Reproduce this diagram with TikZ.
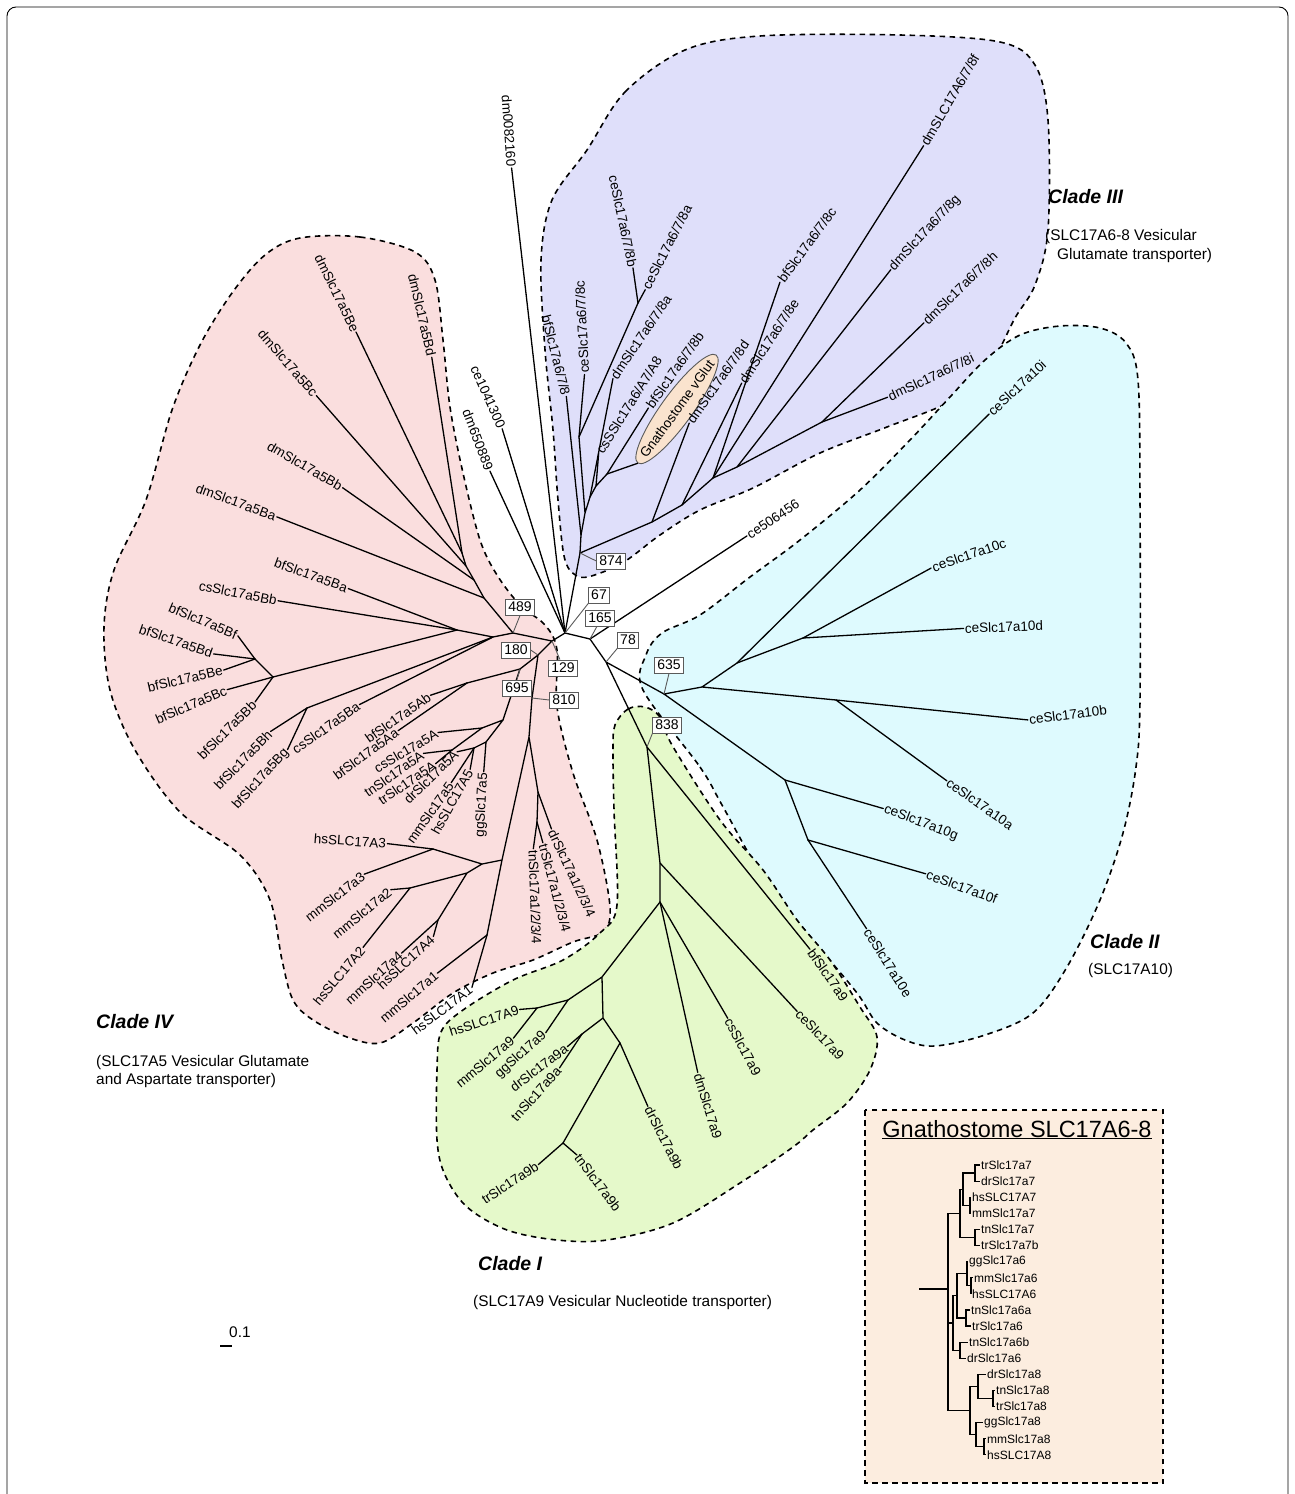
\documentclass[tikz,border=0pt]{standalone}
\usepackage{fontspec}
\setmainfont{Liberation Sans}
\usetikzlibrary{shapes.misc,shapes.geometric}
\definecolor{cIV}{RGB}{250,222,222}
\definecolor{cIII}{RGB}{223,223,250}
\definecolor{cII}{RGB}{222,250,254}
\definecolor{cI}{RGB}{229,249,202}
\definecolor{cInset}{RGB}{252,237,223}
\definecolor{cGV}{RGB}{250,227,206}
\definecolor{bsGray}{RGB}{90,90,90}
\tikzset{
 br/.style={line width=1.3pt,line cap=round},
 lbl/.style={font=\fontsize{13.5}{15}\selectfont,inner sep=1.2pt},
 cladeln/.style={line width=1.6pt,dash pattern=on 5.5pt off 4.5pt},
 bsbox/.style={draw=bsGray,line width=1pt,fill=white,font=\fontsize{14}{16}\selectfont,inner xsep=2.5pt,inner ysep=1.5pt,minimum height=16pt},
 lead/.style={draw=bsGray,line width=0.9pt},
 ttl/.style={font=\fontsize{19.5}{22}\selectfont\bfseries\itshape,anchor=west,inner sep=0pt},
 sub/.style={font=\fontsize{15.4}{18}\selectfont,anchor=west,inner sep=0pt},
 ibr/.style={line width=1.2pt},
 ilbl/.style={font=\fontsize{12}{13}\selectfont,inner sep=1pt,anchor=west},
 gvstyle/.style={ellipse,draw=bsGray,line width=0.9pt,fill=cGV,font=\fontsize{13.5}{15}\selectfont,inner xsep=-11pt,inner ysep=6pt},
}
% parent, name, centre of text, rotation, anchor the branch ends at, text
\newcommand\leafc[6]{%
  \node[lbl,rotate=#4] (#2) at (#3) {#6};
  \draw[br] (#1) -- (#2.#5);}
\newcommand\ileaf[3]{%
  \coordinate (#1) at (#2);
  \node[ilbl] (L#1) at (#1) {#3};}
\begin{document}
\begin{tikzpicture}[x=1pt,y=-1pt]
\useasboundingbox (0,0) rectangle (1295,1494);
\fill[white] (0,0) rectangle (1295,1494);
\draw[line width=0.9pt,rounded corners=9pt] (7,1494) -- (7,7) -- (1288,7) -- (1288,1494);

% ---------------- clade areas
\draw[cladeln,fill=cIV] plot[smooth cycle,tension=0.55] coordinates {(300,238) (360,237) (415,252) (435,280) (443,340) (450,407) (463,473) (480,540) (497,575) (520,605) (545,625) (557,650) (557,707) (573,773) (597,840) (610,907) (603,932) (573,942) (533,960) (493,973) (453,993) (413,1023) (380,1043) (347,1037) (313,1020) (293,1000) (282,960) (270,900) (240,855) (180,812) (135,750) (110,690) (104,627) (114,570) (146,500) (172,410) (200,345) (232,293) (265,255)};
\draw[cladeln,fill=cIII] plot[smooth cycle,tension=0.55] coordinates {(587,150) (625,92) (685,50) (760,36) (900,35) (1000,42) (1035,65) (1048,120) (1048,230) (1035,285) (1015,318) (990,365) (953,400) (887,427) (820,453) (753,488) (700,510) (660,535) (627,560) (603,572) (580,577) (565,560) (558,500) (553,430) (545,350) (541,260) (552,200)};
\draw[cladeln,fill=cII] plot[smooth cycle,tension=0.55] coordinates {(643,690) (700,767) (722,805) (763,877) (813,940) (857,993) (877,1023) (905,1040) (935,1046) (985,1035) (1033,1013) (1067,967) (1100,900) (1123,833) (1136,767) (1140,700) (1140,500) (1138,380) (1126,343) (1100,328) (1060,326) (1020,335) (985,360) (950,397) (910,440) (860,490) (800,540) (750,577) (700,615) (662,633) (646,655)};
\draw[cladeln,fill=cI] plot[smooth cycle,tension=0.55] coordinates {(615,725) (628,709) (645,707) (660,717) (672,745) (720,820) (763,870) (797,920) (830,960) (860,1007) (877,1037) (870,1070) (847,1103) (813,1130) (793,1147) (740,1183) (673,1223) (607,1240) (557,1240) (507,1230) (467,1207) (445,1175) (437,1140) (437,1070) (441,1032) (463,1010) (513,980) (563,960) (600,933) (617,905) (614,810) (613,750)};

% ---------------- centre
\coordinate (A) at (565,633);
\coordinate (N129) at (552,641);
\coordinate (N489) at (513,633);
\coordinate (N180) at (538,655);
\coordinate (N695) at (520,669);
\coordinate (N810) at (532,698);
\coordinate (B) at (590,639);
\coordinate (C) at (606,662);
\coordinate (N874) at (580,553);
\coordinate (N635) at (664,694);
\coordinate (N838) at (647,747);
\draw[br] (A)--(B) (B)--(C) (A)--(N874) (A)--(N129) (N129)--(N489) (N129)--(N180) (N180)--(N695) (N180)--(N810) (C)--(N635) (C)--(N838);
\leafc{A}{tdmA}{509,131}{-86}{east}{dm0082160}
\leafc{A}{tceA}{488,397}{-66}{east}{ce1041300}
\leafc{A}{tdmB}{478,440}{-69}{east}{dm650889}
\leafc{B}{tceF}{773,519}{33}{west}{ce506456}

% ---------------- clade III
\coordinate (L0) at (581,535);
\coordinate (L1) at (585,513);
\coordinate (CEC) at (579,437);
\coordinate (CEAB) at (638,303);
\coordinate (L2) at (590,497);
\coordinate (L3) at (596,486);
\coordinate (GV) at (607,474);
\draw[br] (N874)--(L0)--(L1)--(CEC)--(CEAB) (L1)--(L2)--(L3)--(GV);
\leafc{L0}{tbfA}{556,355}{-76}{east}{bfSlc17a6/7/8}
\leafc{CEC}{tcec}{582,327}{93}{west}{ceSlc17a6/7/8c}
\leafc{CEAB}{tceb}{623,221}{-78}{east}{ceSlc17a6/7/8b}
\leafc{CEAB}{tcea}{667,247}{63}{west}{ceSlc17a6/7/8a}
\leafc{L2}{tdma}{641,337}{56}{west}{dmSlc17a6/7/8a}
\leafc{L3}{tcss}{629,405}{58}{west}{csSSlc17a6/A7/A8}
\leafc{GV}{tbfb}{675,370}{55}{west}{bfSlc17a6/7/8b}
\node[gvstyle,rotate=54] (gvn) at (677,409) {Gnathostome vGlut};
\draw[br] (GV) -- (gvn.west);
\coordinate (R1) at (652,522);
\coordinate (R2) at (682,505);
\coordinate (R3) at (713,478);
\coordinate (R3b) at (737,467);
\coordinate (R4) at (822,422);
\draw[br] (N874)--(R1)--(R2)--(R3)--(R3b)--(R4);
\leafc{R1}{tdmd}{718,382}{55}{west}{dmSlc17a6/7/8d}
\leafc{R2}{tdme}{769,341}{57}{west}{dmSlc17a6/7/8e}
\leafc{R3}{tbfc}{807,245}{54}{west}{bfSlc17a6/7/8c}
\leafc{R3}{tdmf}{950,100}{60}{west}{dmSLC17A6/7/8f}
\leafc{R3b}{tdmg}{925,233}{47}{west}{dmSlc17a6/7/8g}
\leafc{R4}{tdmh}{960,288}{44}{west}{dmSlc17a6/7/8h}
\leafc{R4}{tdmi}{931,377}{25}{west}{dmSlc17a6/7/8i}

% ---------------- clade II
\coordinate (GE) at (785,780);
\coordinate (FE) at (808,840);
\coordinate (T2a) at (702,687);
\coordinate (T2b) at (737,663);
\coordinate (T2d) at (803,638);
\coordinate (T2c) at (836,700);
\draw[br] (N635)--(GE)--(FE) (N635)--(T2a)--(T2b)--(T2d) (T2a)--(T2c);
\leafc{T2b}{tcei}{1017,388}{43}{west}{ceSlc17a10i}
\leafc{T2d}{tcecc}{969,555}{19}{west}{ceSlc17a10c}
\leafc{T2d}{tced}{1004,627}{2}{west}{ceSlc17a10d}
\leafc{T2c}{tcebb}{1068,715}{7}{west}{ceSlc17a10b}
\leafc{T2c}{tceaa}{980,804}{-35}{west}{ceSlc17a10a}
\leafc{GE}{tceg}{921,823}{-21}{west}{ceSlc17a10g}
\leafc{FE}{tcef}{962,887}{-20}{west}{ceSlc17a10f}
\leafc{FE}{tcee}{888,963}{-58}{west}{ceSlc17a10e}

% ---------------- clade I
\coordinate (S9) at (660,863);
\coordinate (T9) at (660,902);
\coordinate (A9) at (602,977);
\coordinate (MAM) at (568,1000);
\coordinate (HM) at (537,1008);
\coordinate (B9) at (603,1018);
\coordinate (DT) at (582,1034);
\coordinate (C9) at (620,1043);
\coordinate (D9) at (563,1143);
\draw[br] (N838)--(S9)--(T9)--(A9)--(MAM)--(HM) (A9)--(B9)--(DT) (B9)--(C9)--(D9);
\leafc{N838}{tbfn}{828,975}{-55}{west}{bfSlc17a9}
\leafc{S9}{tcen}{820,1035}{-46}{west}{ceSlc17a9}
\leafc{T9}{tcsn}{743,1047}{-62}{west}{csSlc17a9}
\leafc{T9}{tdmn}{708,1106}{-73}{west}{dmSlc17a9}
\leafc{MAM}{tggn}{521,1055}{42}{east}{ggSlc17a9}
\leafc{HM}{thsn}{484,1021}{18}{east}{hsSLC17A9}
\leafc{HM}{tmmn}{485,1062}{40}{east}{mmSlc17a9}
\leafc{DT}{tdrna}{539,1068}{37}{east}{drSlc17a9a}
\leafc{DT}{ttnna}{536,1094}{48}{east}{tnSlc17a9a}
\leafc{C9}{tdrnb}{664,1138}{-63}{west}{drSlc17a9b}
\leafc{D9}{ttrnb}{510,1183}{33}{east}{trSlc17a9b}
\leafc{D9}{ttnnb}{598,1183}{-53}{west}{tnSlc17a9b}

% ---------------- clade IV : B group
\coordinate (D1) at (462,553);
\coordinate (D2) at (466,566);
\coordinate (D3) at (474,580);
\coordinate (D4) at (484,598);
\draw[br] (N489)--(D4)--(D3)--(D2)--(D1);
\leafc{D1}{tdmBe}{337,293}{-64}{east}{dmSlc17a5Be}
\leafc{D1}{tdmBd}{422,315}{-77}{east}{dmSlc17a5Bd}
\leafc{D2}{tdmBc}{288,363}{-49}{east}{dmSlc17a5Bc}
\leafc{D3}{tdmBb}{305,466}{-30}{east}{dmSlc17a5Bb}
\leafc{D4}{tdmBa}{236,502}{-20}{east}{dmSlc17a5Ba}
\coordinate (Q) at (493,637);
\coordinate (CS) at (457,630);
\coordinate (BFB) at (273,677);
\coordinate (BB1) at (255,659);
\coordinate (HG) at (307,708);
\draw[br] (N489)--(Q)--(CS)--(BFB)--(BB1) (Q)--(HG);
\leafc{CS}{tcsBb}{238,593}{-11}{east}{csSlc17a5Bb}
\leafc{CS}{tbfBa}{311,575}{-20}{east}{bfSlc17a5Ba}
\leafc{BB1}{tbfBf}{203,621}{-23}{east}{bfSlc17a5Bf}
\leafc{BB1}{tbfBd}{176,641}{-19}{east}{bfSlc17a5Bd}
\leafc{BB1}{tbfBe}{185,679}{13}{east}{bfSlc17a5Be}
\leafc{BFB}{tbfBc}{191,705}{23}{east}{bfSlc17a5Bc}
\leafc{BFB}{tbfBb}{227,730}{45}{east}{bfSlc17a5Bb}
\leafc{HG}{tbfBh}{243,760}{46}{east}{bfSlc17a5Bh}
\leafc{HG}{tbfBg}{261,779}{48}{east}{bfSlc17a5Bg}
\leafc{Q}{tcsBa}{326,728}{35}{east}{csSlc17a5Ba}

% ---------------- clade IV : A5 group
\coordinate (AAB) at (467,683);
\coordinate (V) at (503,720);
\coordinate (CTT) at (482,728);
\coordinate (TT) at (452,750);
\coordinate (DG) at (486,742);
\coordinate (DMH) at (474,748);
\draw[br] (N695)--(AAB) (N695)--(V)--(CTT)--(TT) (V)--(DG)--(DMH);
\leafc{AAB}{tbfAb}{398,718}{35}{east}{bfSlc17a5Ab}
\leafc{AAB}{tbfAa}{366,754}{36}{east}{bfSlc17a5Aa}
\leafc{CTT}{tcsA}{406,751}{30}{east}{csSlc17a5A}
\leafc{TT}{ttnA}{394,774}{35}{east}{tnSlc17a5A}
\leafc{TT}{ttrA}{407,783}{34}{east}{trSlc17a5A}
\leafc{DG}{tggA}{482,805}{87}{east}{ggSlc17a5}
\leafc{DMH}{tdrA}{431,777}{44}{east}{drSlc17a5A}
\leafc{DMH}{thsA}{452,802}{61}{east}{hsSLC17A5}
\leafc{DMH}{tmmA}{430,813}{55}{east}{mmSlc17a5}

% ---------------- clade IV : A1-4 group
\coordinate (NA) at (529,737);
\coordinate (TDT) at (538,792);
\coordinate (TT2) at (537,822);
\coordinate (NA3) at (502,860);
\coordinate (NA1) at (487,935);
\coordinate (NBB) at (482,864);
\coordinate (N33) at (433,849);
\coordinate (NC) at (467,873);
\coordinate (N22) at (410,888);
\coordinate (N44) at (438,920);
\draw[br] (N810)--(NA)--(TDT)--(TT2) (NA)--(NA3)--(NA1) (NA3)--(NBB)--(N33) (NBB)--(NC)--(N22) (NC)--(N44);
\leafc{TDT}{tdrX}{572,873}{-65}{west}{drSlc17a1/2/3/4}
\leafc{TT2}{ttrX}{555,888}{-75}{west}{trSlc17a1/2/3/4}
\leafc{TT2}{ttnX}{535,897}{-88}{west}{tnSlc17a1/2/3/4}
\leafc{NA1}{tmmO}{409,997}{40}{east}{mmSlc17a1}
\leafc{NA1}{thsO}{442,1010}{37}{east}{hsSLC17A1}
\leafc{N33}{thsT}{350,841}{-4}{east}{hsSLC17A3}
\leafc{N33}{tmmT}{335,897}{38}{east}{mmSlc17a3}
\leafc{N22}{tmmW}{362,913}{39}{east}{mmSlc17a2}
\leafc{N22}{thsW}{339,976}{50}{east}{hsSLC17A2}
\leafc{N44}{tmmF}{374,978}{42}{east}{mmSlc17a4}
\leafc{N44}{thsF}{406,962}{43}{east}{hsSLC17A4}

% ---------------- bootstrap boxes
\node[bsbox] (b874) at (611,561) {874}; \draw[lead] (b874.west) -- (N874);
\node[bsbox] (b67) at (599,595) {67}; \draw[lead] (b67.south west) -- (A);
\node[bsbox] (b165) at (600,618) {165}; \draw[lead] (b165.250) -- (B);
\node[bsbox] (b78) at (628,640) {78}; \draw[lead] (b78.south west) -- (C);
\node[bsbox] (b489) at (520,607) {489}; \draw[lead] (b489.south) -- (N489);
\node[bsbox] (b180) at (516,650) {180}; \draw[lead] (b180.east) -- (N180);
\node[bsbox] (b129) at (563,668) {129}; \draw[lead] (b129.110) -- (N129);
\node[bsbox] (b695) at (517,688) {695}; \draw[lead] (b695.north) -- (N695);
\node[bsbox] (b810) at (564,700) {810}; \draw[lead] (b810.west) -- (N810);
\node[bsbox] (b635) at (669,665) {635}; \draw[lead] (b635.south) -- (N635);
\node[bsbox] (b838) at (667,725) {838}; \draw[lead] (b838.south west) -- (N838);

% ---------------- clade titles
\node[ttl] (tIII) at (1048,197) {Clade III};
\node[sub] (sIIIa) at (1045,237) {(SLC17A6-8 Vesicular};
\node[sub] (sIIIb) at (1057,256) {Glutamate transporter)};
\node[ttl] (tII) at (1090,942) {Clade II};
\node[sub] (sII) at (1088,971) {(SLC17A10)};
\node[ttl] (tIV) at (96,1022) {Clade IV};
\node[sub] (sIVa) at (96,1062) {(SLC17A5 Vesicular Glutamate};
\node[sub] (sIVb) at (96,1081) {and Aspartate transporter)};
\node[ttl] (tI) at (478,1264) {Clade I};
\node[sub] (sI) at (473,1303) {(SLC17A9 Vesicular Nucleotide transporter)};

% ---------------- scale bar
\coordinate (sb1) at (220,1346);
\coordinate (sb2) at (232,1346);
\draw[line width=1.1pt] (sb1) -- (sb2);
\node[sub] (sbt) at (229,1332) {0.1};

% ---------------- inset
\draw[cladeln,fill=cInset] (865,1110) rectangle (1163,1483);
\node[font=\fontsize{23.5}{26}\selectfont,anchor=base,inner sep=0pt] (ititle) at (1017,1137) {\underline{Gnathostome SLC17A6-8}};
\ileaf{u1}{980,1165.0}{trSlc17a7}
\ileaf{u2}{980,1181.1}{drSlc17a7}
\ileaf{u3}{971,1197.2}{hsSLC17A7}
\ileaf{u4}{971,1213.3}{mmSlc17a7}
\ileaf{u5}{980,1229.4}{tnSlc17a7}
\ileaf{u6}{980,1245.5}{trSlc17a7b}
\ileaf{u7}{968,1261.6}{ggSlc17a6}
\ileaf{u8}{973,1277.7}{mmSlc17a6}
\ileaf{u9}{971,1293.8}{hsSLC17A6}
\ileaf{u10}{970,1309.9}{tnSlc17a6a}
\ileaf{u11}{971,1326.0}{trSlc17a6}
\ileaf{u12}{968,1342.1}{tnSlc17a6b}
\ileaf{u13}{966,1358.2}{drSlc17a6}
\ileaf{u14}{986,1374.3}{drSlc17a8}
\ileaf{u15}{995,1390.4}{tnSlc17a8}
\ileaf{u16}{995,1406.5}{trSlc17a8}
\ileaf{u17}{983,1422.6}{ggSlc17a8}
\ileaf{u18}{986,1438.7}{mmSlc17a8}
\ileaf{u19}{986,1454.8}{hsSLC17A8}
\coordinate (p1) at (975,1173.05);
\coordinate (p2) at (970,1205.25);
\coordinate (p12) at (963,1189.15);
\coordinate (p3) at (975,1237.45);
\coordinate (pA7) at (960,1213.3);
\coordinate (q1) at (971,1285.75);
\coordinate (q2) at (967,1273.7);
\coordinate (q3) at (966,1317.95);
\coordinate (q4) at (960,1350.15);
\coordinate (q23) at (957,1295.8);
\coordinate (q234) at (953,1323.0);
\coordinate (r1) at (993,1398.45);
\coordinate (r2) at (978,1386.4);
\coordinate (r3) at (984,1446.75);
\coordinate (r4) at (976,1434.7);
\coordinate (r5) at (970,1410.5);
\coordinate (rt) at (948,1289);
\coordinate (rs) at (919,1289);
\draw[ibr] (p1) |- (u1) (p1) |- (u2) (p2) |- (u3) (p2) |- (u4)
 (p12) |- (p1) (p12) |- (p2) (p3) |- (u5) (p3) |- (u6)
 (pA7) |- (p12) (pA7) |- (p3)
 (q1) |- (u8) (q1) |- (u9) (q2) |- (u7) (q2) |- (q1)
 (q3) |- (u10) (q3) |- (u11) (q4) |- (u12) (q4) |- (u13)
 (q23) |- (q2) (q23) |- (q3) (q234) |- (q23) (q234) |- (q4)
 (r1) |- (u15) (r1) |- (u16) (r2) |- (u14) (r2) |- (r1)
 (r3) |- (u18) (r3) |- (u19) (r4) |- (u17) (r4) |- (r3)
 (r5) |- (r2) (r5) |- (r4)
 (rt) |- (pA7) (rt) |- (q234) (rt) |- (r5) (rs) -- (rt);
\end{tikzpicture}
\end{document}
